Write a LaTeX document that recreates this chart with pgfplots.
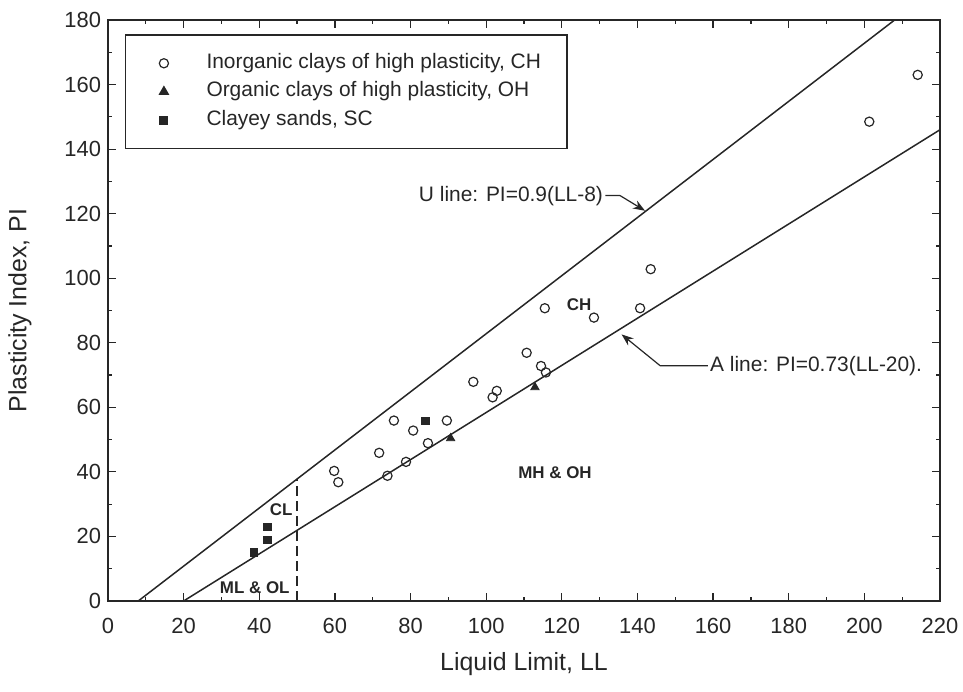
\documentclass[border=0pt]{standalone}
\usepackage{fontspec}
\setmainfont{Liberation Sans}
\usepackage{pgfplots}
\pgfplotsset{compat=1.18}
\usetikzlibrary{arrows.meta}
\definecolor{ink}{gray}{0.15}
\begin{document}
\begin{tikzpicture}
\begin{axis}[
  scale only axis, width=416bp, height=290.5bp,
  xmin=0, xmax=220, ymin=0, ymax=180,
  xtick={0,20,...,220}, ytick={0,20,...,180},
  minor x tick num=1, minor y tick num=1,
  tick align=inside,
  major tick length=4bp, minor tick length=2.2bp,
  tick style={ink, line width=0.6bp},
  axis line style={ink, line width=0.8bp},
  /pgf/number format/assume math mode=true,
  ticklabel style={font=\fontsize{11}{13}\selectfont, text=ink},
  xticklabel style={yshift=-5bp},
  xlabel={Liquid Limit, LL}, ylabel={Plasticity Index, PI},
  label style={font=\fontsize{12.5}{15}\selectfont, text=ink},
  xlabel style={at={(axis description cs:0.5,-0.108)}, anchor=center},
  ylabel style={at={(axis description cs:-0.1058,0.5)}, anchor=center, rotate=0},
  legend cell align=left,
  legend image code/.code={\draw[mark repeat=2,mark phase=2,#1] plot coordinates {(0bp,0bp)(6bp,0bp)(12bp,0bp)};},
  legend style={at={(axis cs:4.5,175.6)}, anchor=north west, draw=ink, line width=0.7bp,
    font=\fontsize{10.5}{12}\selectfont, text=ink,
    inner xsep=16.8bp, inner ysep=7.2bp, column sep=17bp, row sep=0.2bp,
    nodes={inner sep=2pt, text height=7.6bp, text depth=2.4bp}},
]
\addplot[only marks, mark=o, mark size=2.3bp, mark options={ink, line width=0.6bp}] table {
x y
59.8 40.3
60.9 36.8
71.7 45.9
73.9 38.8
75.6 55.9
78.8 43.1
80.7 52.8
84.6 48.9
89.6 55.9
96.6 67.9
101.7 63.1
102.8 65.1
110.7 76.9
114.5 72.8
115.8 70.8
115.5 90.7
128.5 87.8
140.7 90.7
143.5 102.8
201.3 148.5
214.1 163.0
};
\addlegendentry{Inorganic clays of high plasticity, CH\hspace*{-27bp}}
\addplot[only marks, mark=triangle*, mark size=2.4bp, mark options={ink, fill=ink}] table {
x y
90.6 50.4
112.9 66.2
};
\addlegendentry{Organic clays of high plasticity, OH}
\addplot[only marks, mark=square*, mark size=1.9bp, mark options={ink, fill=ink}] table {
x y
38.6 15.0
42.2 18.9
42.2 23.0
83.9 55.8
};
\addlegendentry{Clayey sands, SC}
% U line and A line
\addplot[ink, line width=0.75bp, forget plot] coordinates {(8,0) (208,180)};
\addplot[ink, line width=0.75bp, forget plot] coordinates {(20,0) (220,146)};
\addplot[ink, line width=0.6bp, dash pattern=on 5bp off 2.5bp, forget plot] coordinates {(50,0) (50,37.8)};
% annotations
\draw[ink, line width=0.6bp, -{Stealth[length=6bp,width=4.5bp]}] (axis cs:131.5,125.6) -- (axis cs:135.4,125.6) -- (axis cs:142,120.9);
\node[anchor=east, inner sep=1bp, font=\fontsize{10.5}{12}\selectfont, text=ink] at (axis cs:131.5,125.6) {U line: PI=0.9(LL-8)};
\draw[ink, line width=0.6bp, -{Stealth[length=6bp,width=4.5bp]}] (axis cs:158.6,72.9) -- (axis cs:146,72.9) -- (axis cs:135.8,82.6);
\node[anchor=west, inner sep=1bp, font=\fontsize{10.5}{12}\selectfont, text=ink] at (axis cs:158.6,72.9) {A line: PI=0.73(LL-20).};
\node[font=\bfseries\fontsize{8.5}{10}\selectfont, text=ink] at (axis cs:124.6,91.7) {CH};
\node[font=\bfseries\fontsize{8.5}{10}\selectfont, text=ink] at (axis cs:118.2,39.7) {MH \& OH};
\node[font=\bfseries\fontsize{8.5}{10}\selectfont, text=ink] at (axis cs:45.8,28.2) {CL};
\node[font=\bfseries\fontsize{8.5}{10}\selectfont, text=ink] at (axis cs:38.8,4.2) {ML \& OL};
\end{axis}
\pgfresetboundingbox
\path ([shift={(-54bp,-45.5bp)}]current axis.south west) rectangle ([shift={(11.5bp,10bp)}]current axis.north east);
\end{tikzpicture}
\end{document}
